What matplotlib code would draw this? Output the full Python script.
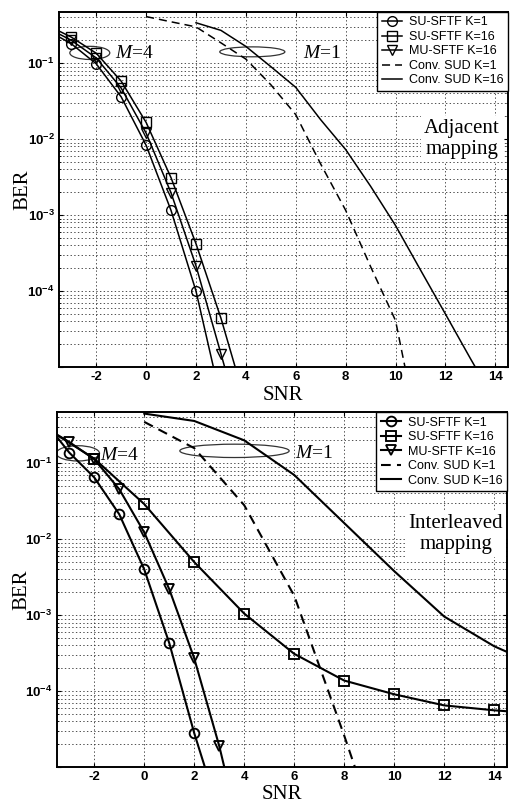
import matplotlib
matplotlib.use('Agg')
import numpy as np
import matplotlib.pyplot as plt
from matplotlib.patches import Ellipse
from matplotlib.ticker import FixedLocator, LogLocator, NullFormatter, FuncFormatter

plt.rcParams['axes.unicode_minus'] = False
plt.rcParams['mathtext.fontset'] = 'custom'
plt.rcParams['mathtext.rm'] = 'Liberation Serif'
plt.rcParams['mathtext.it'] = 'Liberation Serif:italic'
plt.rcParams['mathtext.bf'] = 'Liberation Sans:bold'
plt.rcParams['lines.scale_dashes'] = False

# ---- data : adjacent mapping (top) ----
top_su1_x = [-4, -3, -2, -1, 0, 1, 2, 3]
top_su1_y = [0.275, 0.18, 0.098, 0.036, 0.0083, 0.00115, 1.0e-4, 3.7e-6]
top_su16_x = [-4, -3, -2, -1, 0, 1, 2, 3, 4]
top_su16_y = [0.32, 0.22, 0.135, 0.058, 0.0166, 0.0031, 4.2e-4, 4.4e-5, 3.3e-6]
top_mu16_x = [-4, -3, -2, -1, 0, 1, 2, 3, 4]
top_mu16_y = [0.295, 0.20, 0.117, 0.047, 0.012, 0.00196, 2.15e-4, 1.5e-5, 1e-6]
top_conv1_x = [0, 1, 2, 3, 4, 5, 6, 7, 8, 9, 10, 11]
top_conv1_y = [0.41, 0.35, 0.30, 0.185, 0.113, 0.052, 0.021, 0.0047, 0.00116, 2.1e-4, 4.1e-5, 1e-6]
top_conv16_x = [2, 3, 4, 5, 6, 7, 8, 9, 10, 11, 12, 13, 14]
top_conv16_y = [0.34, 0.27, 0.166, 0.09, 0.048, 0.018, 0.0073, 0.0024, 7.3e-4, 1.9e-4, 5e-5, 1.3e-5, 3.5e-6]

# ---- data : interleaved mapping (bottom) ----
bot_su1_x = [-4, -3, -2, -1, 0, 1, 2, 3]
bot_su1_y = [0.36, 0.138, 0.065, 0.0213, 0.0040, 4.3e-4, 2.8e-5, 2.5e-6]
bot_su16_x = [-4, -2, 0, 2, 4, 6, 8, 10, 12, 14, 16]
bot_su16_y = [0.30, 0.115, 0.029, 0.0050, 0.00105, 3.1e-4, 1.38e-4, 9.1e-5, 6.5e-5, 5.6e-5, 5.0e-5]
bot_mu16_x = [-4, -3, -2, -1, 0, 1, 2, 3, 4]
bot_mu16_y = [0.30, 0.19, 0.113, 0.0455, 0.0123, 0.0022, 2.7e-4, 1.9e-5, 8e-7]
bot_conv1_x = [0, 2, 4, 6, 8, 10]
bot_conv1_y = [0.35, 0.158, 0.028, 0.0018, 2.6e-5, 3e-7]
bot_conv16_x = [0, 2, 4, 6, 8, 10, 12, 14, 16]
bot_conv16_y = [0.45, 0.36, 0.20, 0.070, 0.0163, 0.0038, 9.6e-4, 3.9e-4, 2.0e-4]

labels = ['SU-SFTF K=1', 'SU-SFTF K=16', 'MU-SFTF K=16', 'Conv. SUD K=1', 'Conv. SUD K=16']
xticks = [-2, 0, 2, 4, 6, 8, 10, 12, 14]
yticks = [1e-5, 1e-4, 1e-3, 1e-2, 1e-1]

serif = 'Liberation Serif'
sans = 'Liberation Sans'


def ytick_fmt(v, pos):
    if v < 5e-5:
        return ''
    e = int(round(np.log10(v)))
    return r'$\mathbf{10^{%d}}$' % e


def panel(ax, series, lw, dash, boxtext, boxpos, ell4, txt4, ell1, txt1, ylab_x, xlab_y):
    markers = ['o', 's', 'v', None, None]
    styles = ['-', '-', '-', '--', '-']
    for (x, y), m, ls, lab in zip(series, markers, styles, labels):
        kw = dict(color='black', lw=lw, label=lab)
        if m is not None:
            kw.update(marker=m, markersize=7, markerfacecolor='none',
                      markeredgecolor='black', markeredgewidth=lw * 0.9)
        if ls == '--':
            kw.update(linestyle='--', dashes=dash)
        ax.plot(x, y, **kw)

    ax.set_yscale('log')
    ax.set_xlim(-3.5, 14.5)
    ax.set_ylim(1e-5, 0.47)
    ax.xaxis.set_major_locator(FixedLocator(xticks))
    ax.yaxis.set_major_locator(FixedLocator(yticks))
    ax.yaxis.set_minor_locator(LogLocator(base=10, subs=range(2, 10), numticks=20))
    ax.yaxis.set_minor_formatter(NullFormatter())
    ax.yaxis.set_major_formatter(FuncFormatter(ytick_fmt))
    ax.xaxis.set_major_formatter(FuncFormatter(lambda v, p: '%d' % v))
    for t in ax.get_xticklabels():
        t.set_fontfamily(sans)
        t.set_fontweight('bold')
    ax.tick_params(axis='both', which='major', direction='in', length=3,
                   labelsize=9.5, top=True, right=True, pad=3)
    ax.tick_params(axis='y', which='minor', direction='in', length=1.5,
                   right=True)
    ax.grid(True, which='both', axis='y', color='0.2', linestyle=':', lw=0.6)
    ax.grid(True, which='major', axis='x', color='0.2', linestyle=':', lw=0.6)
    for s in ax.spines.values():
        s.set_linewidth(1.4)

    ax.set_ylabel('BER', family=serif, fontsize=15)
    ax.set_xlabel('SNR', family=serif, fontsize=15)
    ax.yaxis.set_label_coords(ylab_x, 0.5)
    ax.xaxis.set_label_coords(0.5, xlab_y)

    leg = ax.legend(loc='upper right', borderaxespad=0, fancybox=False,
                    framealpha=1, edgecolor='black',
                    prop={'family': sans, 'size': 9}, handlelength=1.65,
                    handletextpad=0.5, labelspacing=0.2, borderpad=0.35)
    leg.get_frame().set_linewidth(1.0)

    ax.text(boxpos[0], boxpos[1], boxtext, transform=ax.transAxes,
            ha='center', va='center', family=serif, fontsize=15,
            linespacing=1.15,
            bbox=dict(facecolor='white', edgecolor='none', pad=2))

    for (cx, cy, w, h), (tx, ty), s in [(ell4, txt4, '=4'), (ell1, txt1, '=1')]:
        ax.add_patch(Ellipse((cx, cy), w, h, transform=ax.transAxes,
                             facecolor='none', edgecolor='0.2', lw=0.9))
        ax.text(tx, ty, r'$M$' + s, transform=ax.transAxes, ha='left',
                va='center', family=serif, fontsize=14)


fig = plt.figure(figsize=(5.16, 8.05), dpi=100)
ax1 = fig.add_axes([0.114, 0.544, 0.870, 0.441])
ax2 = fig.add_axes([0.110, 0.047, 0.872, 0.441])

panel(ax1,
      [(top_su1_x, top_su1_y), (top_su16_x, top_su16_y), (top_mu16_x, top_mu16_y),
       (top_conv1_x, top_conv1_y), (top_conv16_x, top_conv16_y)],
      1.1, (5.8, 3.6), 'Adjacent\nmapping', (0.898, 0.642),
      (0.069, 0.885, 0.089, 0.037), (0.125, 0.882),
      (0.431, 0.888, 0.145, 0.028), (0.543, 0.882), -0.060, -0.054)

panel(ax2,
      [(bot_su1_x, bot_su1_y), (bot_su16_x, bot_su16_y), (bot_mu16_x, bot_mu16_y),
       (bot_conv1_x, bot_conv1_y), (bot_conv16_x, bot_conv16_y)],
      1.5, (7.0, 4.5), 'Interleaved\nmapping', (0.887, 0.656),
      (0.047, 0.884, 0.096, 0.043), (0.0956, 0.879),
      (0.395, 0.891, 0.243, 0.0376), (0.529, 0.884), -0.056, -0.050)

fig.savefig('out.png', dpi=100)
